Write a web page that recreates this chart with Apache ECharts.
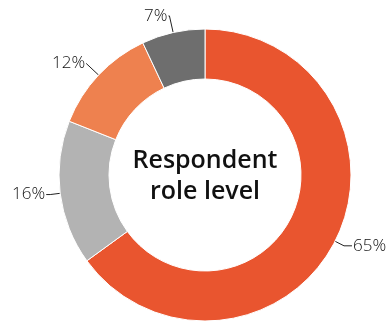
<!DOCTYPE html>
<html>
<head>
<meta charset="utf-8">
<script src="https://cdn.jsdelivr.net/npm/echarts@6/dist/echarts.min.js"></script>
<style>
  html, body { margin: 0; padding: 0; background: #fff; }
  #chart { width: 390px; height: 323px; }
</style>
</head>
<body>
<div id="chart"></div>
<script>
// Share of respondents by role level
const shares = [65, 16, 12, 7];
const sliceColors = ['#E9552F', '#B3B3B3', '#EE814F', '#6E6E6E'];
const centerLines = ['Respondent', 'role level'];
// leader line lengths per slice: [radial part, horizontal part]
const leaderLengths = [[10, 8], [10, 4], [17, 0], [17, 1]];

const chart = echarts.init(document.getElementById('chart'), null, { renderer: 'canvas' });

chart.setOption({
  animation: false,
  graphic: [{
    type: 'text',
    x: 205,
    y: 176,
    style: {
      text: centerLines.join('\n'),
      align: 'center',
      verticalAlign: 'middle',
      fontFamily: 'Open Sans',
      fontWeight: 600,
      fontSize: 25,
      lineHeight: 31,
      fill: '#111'
    }
  }],
  series: [{
    type: 'pie',
    center: [205, 175],
    radius: [96, 146],
    startAngle: 90,
    clockwise: true,
    itemStyle: { borderColor: '#fff', borderWidth: 1 },
    label: {
      formatter: '{c}%',
      fontFamily: 'Open Sans',
      fontWeight: 300,
      fontSize: 17,
      color: '#111',
      overflow: 'none',
      distanceToLabelLine: 1
    },
    labelLine: {
      lineStyle: { color: '#222', width: 1 }
    },
    data: shares.map((v, i) => ({
      value: v,
      itemStyle: { color: sliceColors[i] },
      labelLine: { length: leaderLengths[i][0], length2: leaderLengths[i][1] }
    }))
  }]
});
</script>
</body>
</html>
